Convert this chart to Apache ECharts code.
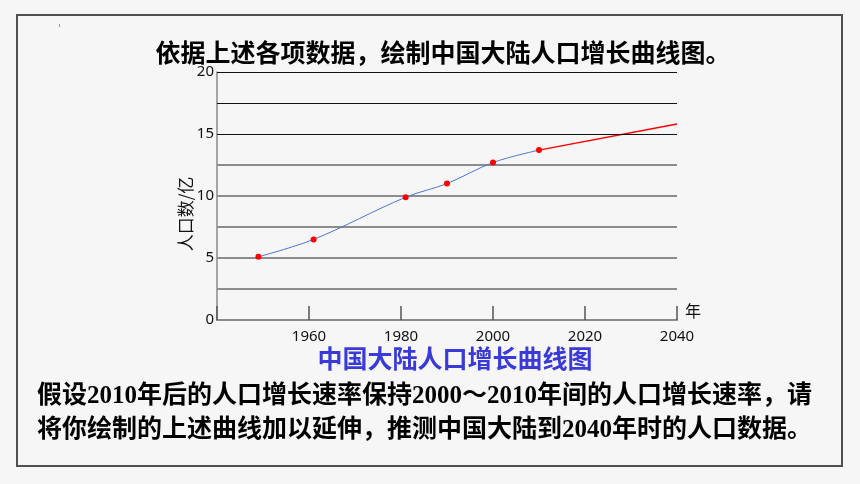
<!DOCTYPE html>
<html>
<head>
<meta charset="utf-8">
<script src="https://cdn.jsdelivr.net/npm/echarts@6/dist/echarts.min.js"></script>
<style>
  html, body { margin: 0; padding: 0; background: #f6f6f6; }
  #chart { width: 860px; height: 484px; }
</style>
</head>
<body>
<div id="chart"></div>
<script>
// 数据：中国大陆人口（亿）
const years = [1949, 1961, 1981, 1990, 2000, 2010];
const population = [5.1, 6.5, 9.9, 11.0, 12.7, 13.7];
// 按2000~2010年增长速率延伸
const extYears = [2010, 2040];
const extPopulation = [13.7, 15.8];
// 黑色网格线位置
const darkLines = [15, 17.5, 20];

const titleText = '依据上述各项数据，绘制中国大陆人口增长曲线图。';
const chartTitle = '中国大陆人口增长曲线图';
const noteLines = [
  '假设2010年后的人口增长速率保持2000～2010年间的人口增长速率，请',
  '将你绘制的上述曲线加以延伸，推测中国大陆到2040年时的人口数据。'
];

const cjk = '"Noto Sans CJK SC", sans-serif';
const mixed = '"Liberation Serif", "Noto Sans CJK SC", serif';

const chart = echarts.init(document.getElementById('chart'));

const option = {
  backgroundColor: '#f6f6f6',
  animation: false,
  grid: { left: 217, right: 183, top: 72, bottom: 164 },
  xAxis: {
    type: 'value',
    min: 1940,
    max: 2040,
    interval: 20,
    name: '年',
    nameLocation: 'end',
    nameGap: 8,
    nameTextStyle: { fontSize: 16, color: '#111', fontFamily: cjk, verticalAlign: 'bottom', padding: [0, 0, 1, 0] },
    axisLine: { lineStyle: { color: '#8a8a8a', width: 2 } },
    axisTick: { inside: true, length: 14, lineStyle: { color: '#555', width: 1.5 } },
    axisLabel: {
      margin: 9,
      fontSize: 15,
      color: '#111',
      fontFamily: 'Noto Sans',
      formatter: v => (v === 1940 ? '' : v)
    },
    splitLine: { show: false }
  },
  yAxis: {
    type: 'value',
    min: 0,
    max: 20,
    interval: 2.5,
    name: '人口数/亿',
    nameLocation: 'middle',
    nameRotate: 90,
    nameGap: 23,
    nameMoveOverlap: false,
    nameTextStyle: { fontSize: 17, color: '#111', fontFamily: cjk, padding: [0, 36, 0, 0] },
    axisLine: { show: true, lineStyle: { color: '#8a8a8a', width: 1.5 } },
    axisTick: { show: false },
    axisLabel: {
      margin: 3,
      fontSize: 15,
      color: '#111',
      fontFamily: 'Noto Sans',
      formatter: v => (v % 5 === 0 ? v : '')
    },
    splitLine: {
      lineStyle: {
        width: 2,
        // 0 ~ 12.5 灰色，15 ~ 20 由 markLine 画黑线
        color: ['#8c8c8c', '#8c8c8c', '#8c8c8c', '#8c8c8c', '#8c8c8c', '#8c8c8c', 'transparent', 'transparent', 'transparent']
      }
    }
  },
  series: [
    {
      name: '人口',
      type: 'line',
      z: 3,
      smooth: 0.35,
      symbol: 'circle',
      symbolSize: 6,
      itemStyle: { color: '#ff0000' },
      lineStyle: { color: '#4a78d0', width: 1 },
      data: years.map((y, i) => [y, population[i]])
    },
    {
      name: '延伸',
      type: 'line',
      z: 2,
      symbol: 'none',
      lineStyle: { color: '#ff0000', width: 1.5 },
      data: extYears.map((y, i) => [y, extPopulation[i]])
    },
    {
      name: 'grid',
      type: 'line',
      z: 1,
      data: [],
      markLine: {
        silent: true,
        symbol: 'none',
        label: { show: false },
        lineStyle: { color: '#111', width: 1, type: 'solid' },
        data: darkLines.map(v => ({ yAxis: v }))
      }
    }
  ],
  graphic: [
    {
      type: 'rect',
      shape: { x: 17, y: 15, width: 825, height: 451 },
      style: { fill: 'transparent', stroke: '#505050', lineWidth: 2 },
      silent: true
    },
    {
      type: 'rect',
      shape: { x: 59, y: 24, width: 1, height: 3 },
      style: { fill: '#999' },
      silent: true
    },
    {
      type: 'text',
      x: 443, y: 52,
      style: { text: titleText, font: 'bold 25px ' + cjk, fill: '#000', textAlign: 'center', textVerticalAlign: 'middle' }
    },
    {
      type: 'text',
      x: 455, y: 358,
      style: { text: chartTitle, font: 'bold 25px ' + cjk, fill: '#3a3ad8', textAlign: 'center', textVerticalAlign: 'middle' }
    },
    {
      type: 'text',
      x: 37, y: 397,
      style: { text: noteLines[0], font: 'bold 25px ' + mixed, fill: '#000', textAlign: 'left', textVerticalAlign: 'middle' }
    },
    {
      type: 'text',
      x: 37, y: 431,
      style: { text: noteLines[1], font: 'bold 25px ' + mixed, fill: '#000', textAlign: 'left', textVerticalAlign: 'middle' }
    }
  ]
};

chart.setOption(option);
window.addEventListener('resize', () => chart.resize());
</script>
</body>
</html>
